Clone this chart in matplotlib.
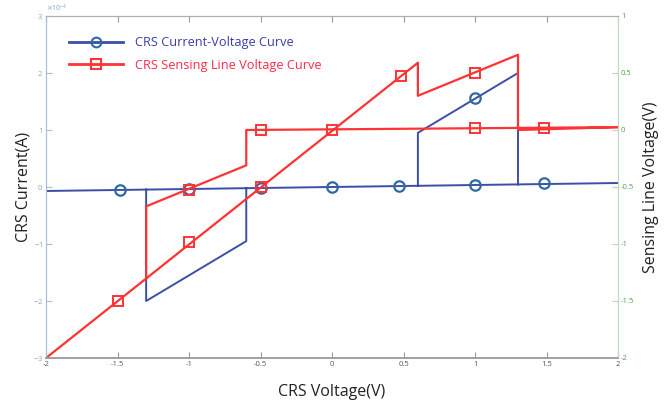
"""CRS current-voltage and sensing line voltage hysteresis plot."""
import matplotlib

matplotlib.use("Agg")
import matplotlib.pyplot as plt
import matplotlib.ticker as mticker
import numpy as np

plt.rcParams["font.family"] = ["Open Sans", "DejaVu Sans"]

# CRS current (A), stored as polyline segments separated by NaN
cur_v = [-2.0, 2.0, np.nan,
         0.6, 0.6, 1.3, 1.3, np.nan,
         -1.3, -1.3, -0.6, -0.6]
cur_i = [-0.07e-4, 0.07e-4, np.nan,
         0.02e-4, 0.95e-4, 2.0e-4, 0.045e-4, np.nan,
         -0.045e-4, -2.0e-4, -0.95e-4, -0.02e-4]
cur_mark_v = [-1.48, -1.0, -0.5, 0.0, 0.47, 1.0, 1.0, 1.48]
cur_mark_i = [-0.05e-4, -0.035e-4, -0.02e-4, 0.0, 0.01e-4, 1.57e-4, 0.04e-4, 0.07e-4]

# sensing line voltage (V)
sen_v = [-2.0, 0.6, 0.6, 1.3, 1.3, 2.0, np.nan,
         2.0, -0.6, -0.6, -1.3, -1.3]
sen_u = [-2.0, 0.59, 0.3, 0.66, 0.0, 0.025, np.nan,
         0.025, 0.0, -0.31, -0.67, -1.3]
sen_mark_v = [-1.5, -1.0, -1.0, -0.5, -0.5, 0.0, 0.48, 1.0, 1.0, 1.48]
sen_mark_u = [-1.5, -0.98, -0.53, -0.5, 0.0, 0.0, 0.47, 0.5, 0.02, 0.02]

x_ticks = [-2, -1.5, -1, -0.5, 0, 0.5, 1, 1.5, 2]
left_ticks = [-3e-4, -2e-4, -1e-4, 0, 1e-4, 2e-4, 3e-4]
right_ticks = [-2, -1.5, -1, -0.5, 0, 0.5, 1]

BLUE = "#3b4fa6"
BLUE_MK = "#2f69a6"
RED = "#ff3333"

fig = plt.figure(figsize=(6.71, 4.09), dpi=100)
ax = fig.add_axes([0.0686, 0.1247, 0.8526, 0.8362])
ax2 = ax.twinx()

ax.plot(cur_v, cur_i, color=BLUE, lw=1.4)
ax.plot(cur_mark_v, cur_mark_i, ls="none", marker="o", ms=7.5, mfc="none",
        mec=BLUE_MK, mew=1.6)
ax2.plot(sen_v, sen_u, color=RED, lw=1.6)
ax2.plot(sen_mark_v, sen_mark_u, ls="none", marker="s", ms=7.5, mfc="none",
         mec=RED, mew=1.4)

ax.set_xlim(-2, 2)
ax.set_ylim(-3e-4, 3e-4)
ax2.set_ylim(-2, 1)
ax.set_xticks(x_ticks)
ax.set_yticks(left_ticks)
ax2.set_yticks(right_ticks)

fmt_g = mticker.FuncFormatter(lambda v, p: f"{v:g}")
ax.xaxis.set_major_formatter(fmt_g)
ax2.yaxis.set_major_formatter(fmt_g)
sf = mticker.ScalarFormatter(useMathText=True)
sf.set_powerlimits((0, 0))
ax.yaxis.set_major_formatter(sf)
ax.yaxis.get_offset_text().set_fontsize(5)
ax.yaxis.get_offset_text().set_color("#7f90b0")

ax.tick_params(axis="x", direction="in", top=True, length=4, labelsize=5.5,
               labelcolor="#555555", color="#999999", pad=2)
ax.tick_params(axis="y", direction="in", length=4, labelsize=5.5,
               labelcolor="#8aa2cc", color="#a9bcdc", pad=2)
ax2.tick_params(axis="y", direction="in", length=4, labelsize=5.5,
                labelcolor="#4ea04e", color="#b8d8b8", pad=2)

for a in (ax, ax2):
    a.spines["top"].set_color("#b0b0b0")
    a.spines["bottom"].set_color("#a0a0a0")
    a.spines["bottom"].set_linewidth(1.2)
    a.spines["left"].set_color("#a9bcdc")
    a.spines["right"].set_color("#c0dcc0")

ax.set_xlabel("CRS Voltage(V)", fontsize=11.5, color="#222222")
ax.set_ylabel("CRS Current(A)", fontsize=11.5, color="#222222")
ax2.set_ylabel("Sensing Line Voltage(V)", fontsize=11.5, color="#222222")
ax.xaxis.set_label_coords(0.5, -0.075)
ax.yaxis.set_label_coords(-0.04, 0.5)
ax2.yaxis.set_label_coords(1.057, 0.5)
ax.xaxis.label.set_va("top")
ax.yaxis.label.set_va("center")
ax2.yaxis.label.set_va("center")

# legend with line + marker handles
h1 = plt.Line2D([], [], color=BLUE, lw=2, marker="o", ms=7, mfc="none",
                mec=BLUE_MK, mew=1.5)
h2 = plt.Line2D([], [], color=RED, lw=2, marker="s", ms=7, mfc="none",
                mec=RED, mew=1.5)
leg = ax2.legend([h1, h2], ["CRS Current-Voltage Curve",
                            "CRS Sensing Line Voltage Curve"],
                 loc="upper left", bbox_to_anchor=(0.02, 0.975), frameon=False,
                 fontsize=9.2, handlelength=4.2, labelspacing=0.75,
                 handletextpad=1.0)
leg.get_texts()[0].set_color("#3a3ea8")
leg.get_texts()[1].set_color("#ff2a4a")

fig.savefig("out.png", dpi=100)
